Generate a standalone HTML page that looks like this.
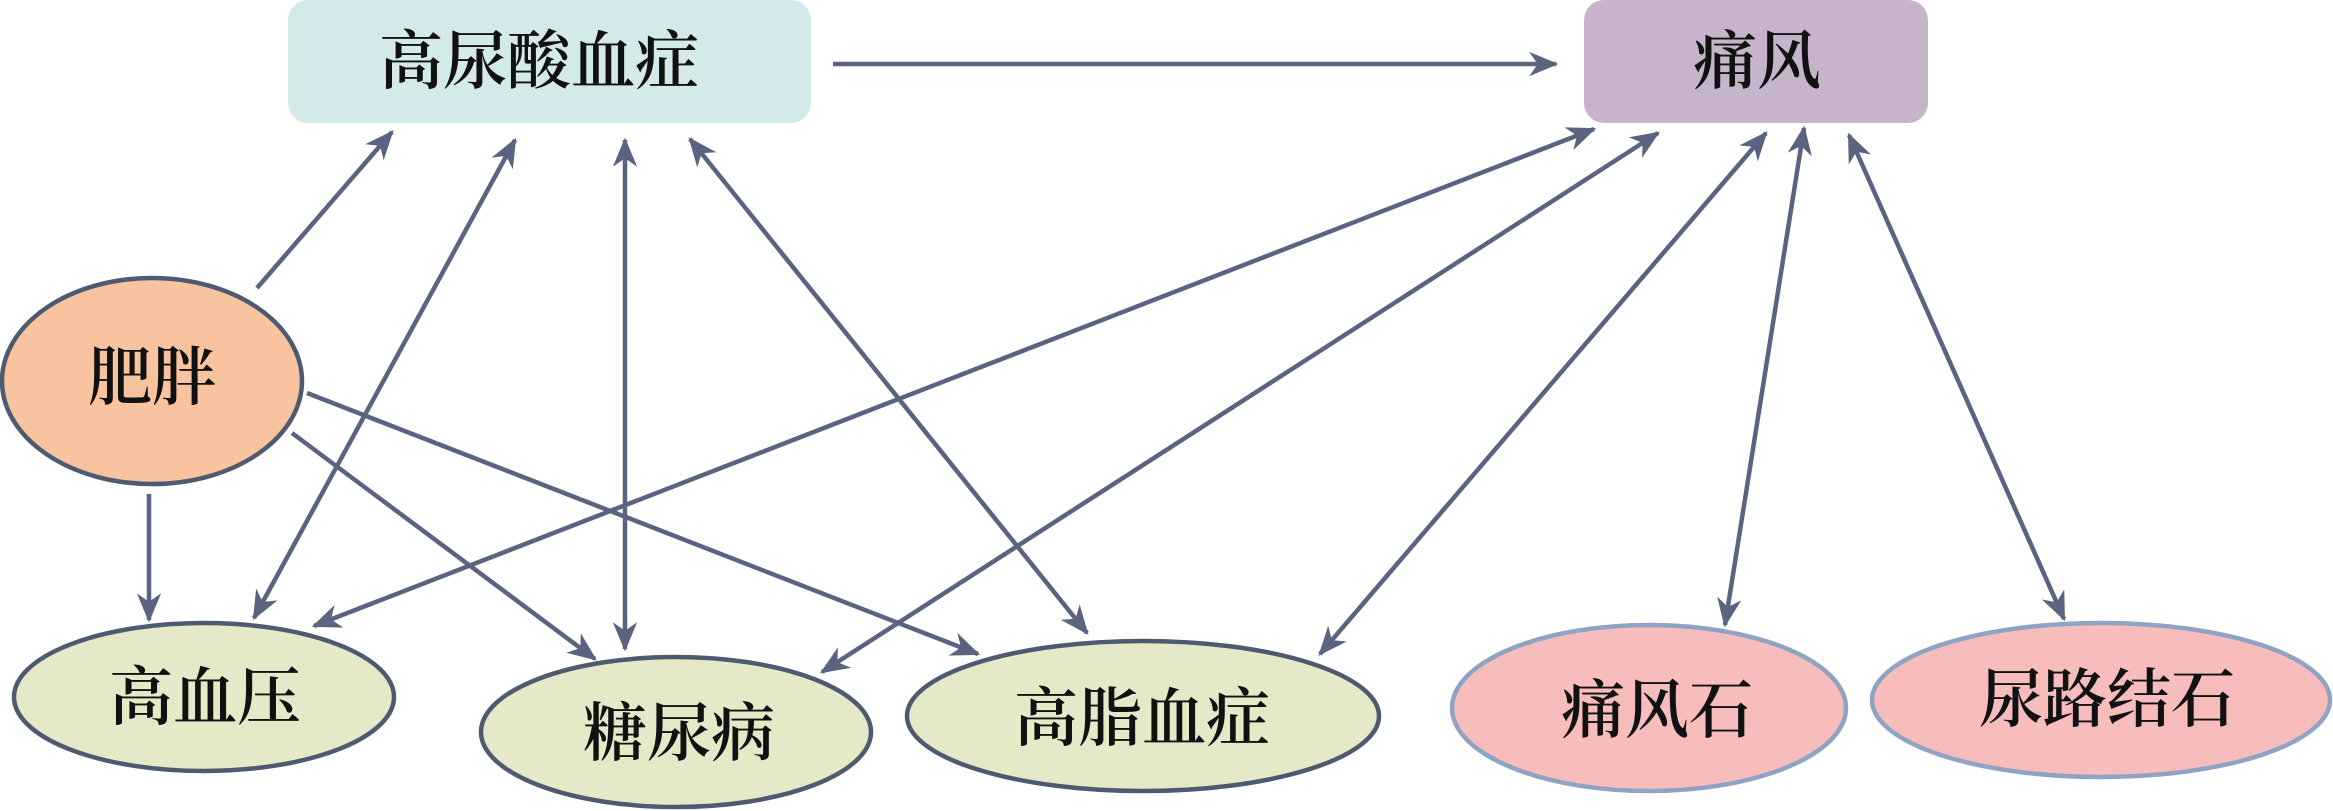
<!DOCTYPE html>
<html><head><meta charset="utf-8"><style>
html,body{margin:0;padding:0;background:#fff;}
svg{display:block;}
text{font-family:"Liberation Serif","Noto Serif CJK SC",serif;font-size:64px;font-weight:600;fill:#111;text-anchor:middle;dominant-baseline:central;}
</style></head><body>
<svg width="2333" height="811" viewBox="0 0 2333 811" xmlns="http://www.w3.org/2000/svg">
<defs>
<marker id="a" viewBox="0 0 12 10" refX="11" refY="5" markerWidth="6.5" markerHeight="5.5" orient="auto-start-reverse" markerUnits="strokeWidth">
<path d="M0,0 L12,5 L0,10 L3.5,5 z" fill="#5a6480"/>
</marker>
</defs>
<rect x="288" y="0" width="523" height="123" rx="20" fill="#d4eaea"/>
<text x="539" y="62">高尿酸血症</text>
<rect x="1584" y="0" width="344" height="123" rx="20" fill="#c6b4cb"/>
<text x="1757" y="62">痛风</text>

<g stroke="#5a6480" stroke-width="4.5" fill="none">
<line x1="833" y1="64" x2="1556" y2="64" marker-end="url(#a)"/>
<line x1="257" y1="288" x2="392" y2="132" marker-end="url(#a)"/>
<line x1="254" y1="618" x2="515" y2="140" marker-start="url(#a)" marker-end="url(#a)"/>
<line x1="625" y1="649" x2="625" y2="140" marker-start="url(#a)" marker-end="url(#a)"/>
<line x1="1087" y1="633" x2="690" y2="139" marker-start="url(#a)" marker-end="url(#a)"/>
<line x1="149" y1="494" x2="149" y2="620" marker-end="url(#a)"/>
<line x1="292" y1="433" x2="595" y2="659" marker-end="url(#a)"/>
<line x1="307" y1="393" x2="978" y2="654" marker-end="url(#a)"/>
<line x1="314" y1="626" x2="1594" y2="129" marker-start="url(#a)" marker-end="url(#a)"/>
<line x1="822" y1="672" x2="1658" y2="133" marker-start="url(#a)" marker-end="url(#a)"/>
<line x1="1320" y1="654" x2="1766" y2="133" marker-start="url(#a)" marker-end="url(#a)"/>
<line x1="1725" y1="625" x2="1804" y2="128" marker-start="url(#a)" marker-end="url(#a)"/>
<line x1="2064" y1="619" x2="1849" y2="135" marker-start="url(#a)" marker-end="url(#a)"/>
</g>

<ellipse cx="152" cy="381" rx="150" ry="103" fill="#f8c4a0" stroke="#4e5a70" stroke-width="4.5"/>
<text x="152" y="378">肥胖</text>
<ellipse cx="204" cy="697" rx="190" ry="74" fill="#e6e9c8" stroke="#4e5a70" stroke-width="4.5"/>
<text x="205" y="698">高血压</text>
<ellipse cx="676" cy="732" rx="195" ry="75" fill="#e6e9c8" stroke="#4e5a70" stroke-width="4.5"/>
<text x="679" y="734">糖尿病</text>
<ellipse cx="1143" cy="716" rx="236" ry="75" fill="#e6e9c8" stroke="#4e5a70" stroke-width="4.5"/>
<text x="1142" y="719">高脂血症</text>
<ellipse cx="1649" cy="708" rx="197" ry="83" fill="#f7bcbc" stroke="#8fa3c4" stroke-width="4.5"/>
<text x="1657" y="711">痛风石</text>
<ellipse cx="2101" cy="700" rx="229" ry="77" fill="#f7bcbc" stroke="#8fa3c4" stroke-width="4.5"/>
<text x="2107" y="700">尿路结石</text>
</svg>
</body></html>
